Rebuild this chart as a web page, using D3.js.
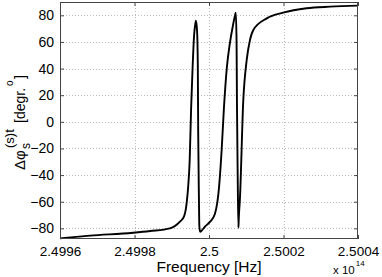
<!DOCTYPE html>
<html><head><meta charset="utf-8">
<script src="https://cdn.jsdelivr.net/npm/d3@7"></script>
<style>
html,body{margin:0;padding:0;background:#fff;}
svg{display:block;font-family:"Liberation Sans",Arial,Helvetica,sans-serif;}
</style></head>
<body>
<svg id="c" width="382" height="277"></svg>
<script>
// Frequency in units of 1e14 Hz
const freq = [2.49960,2.499681,2.499796,2.499842,2.499895,2.499922,2.499933,2.499940,2.499944,2.499948,2.499952,2.499956,2.499960,2.499963,2.499965,2.499968,2.499970,2.499971,2.499973,2.499974,2.499976,2.499981,2.499989,2.500003,2.500016,2.500027,2.500034,2.500040,2.500048,2.500056,2.500064,2.500070,2.500072,2.500074,2.500075,2.500077,2.500079,2.500080,2.500083,2.500092,2.500101,2.500110,2.500119,2.500155,2.500199,2.500262,2.500325,2.500400];
const dphi = [-87.5,-85.5,-83.3,-82,-80,-75,-71,-61,-49,-30,10,41,65,73,76,68,41,-8,-58,-78,-82.6,-81.5,-78.8,-75,-69,-49,-21,10,41,59,72,80,82,60,16,-40,-79.5,-72,-58,16,46,61.5,69,77.7,82,85.3,86.5,87.3];
const xTicks = [2.4996,2.4998,2.5,2.5002,2.5004];
const xTickLabels = ["2.4996","2.4998","2.5","2.5002","2.5004"];
const yTicks = [-80,-60,-40,-20,0,20,40,60,80];
const yTickLabels = ["\u221280","\u221260","\u221240","\u221220","0","20","40","60","80"];
const xDomain = [2.4996,2.5004];
const yDomain = [-88,90];

const svg = d3.select("#c");
const L=60, R=358, T=2, B=239;
const x = d3.scaleLinear().domain(xDomain).range([L,R]);
const y = d3.scaleLinear().domain(yDomain).range([B,T]);

// grid
const g = svg.append("g");
g.selectAll(".gx").data(xTicks.slice(1,-1)).enter().append("line")
  .attr("x1",d=>Math.round(x(d))+0.5).attr("x2",d=>Math.round(x(d))+0.5)
  .attr("y1",T).attr("y2",B)
  .attr("stroke","#bbb").attr("stroke-width",1).attr("stroke-dasharray","1,2");
g.selectAll(".gy").data(yTicks).enter().append("line")
  .attr("y1",d=>Math.round(y(d))+0.5).attr("y2",d=>Math.round(y(d))+0.5)
  .attr("x1",L).attr("x2",R)
  .attr("stroke","#bbb").attr("stroke-width",1).attr("stroke-dasharray","1,2");

// curve
const line = d3.line().x((d,i)=>x(freq[i])).y(d=>y(d)).curve(d3.curveMonotoneX);
svg.append("path").datum(dphi).attr("d",line)
  .attr("fill","none").attr("stroke","#000").attr("stroke-width",1.9)
  .attr("stroke-linejoin","round");

// axes (inward ticks, box)
const axB = d3.axisBottom(x).tickValues(xTicks).tickFormat((d,i)=>xTickLabels[i]).tickSizeInner(-4).tickSizeOuter(0).tickPadding(7);
const axT = d3.axisTop(x).tickValues(xTicks).tickFormat("").tickSizeInner(-4).tickSizeOuter(0);
const axL = d3.axisLeft(y).tickValues(yTicks).tickFormat((d,i)=>yTickLabels[i]).tickSizeInner(-4).tickSizeOuter(0).tickPadding(6);
const axR = d3.axisRight(y).tickValues(yTicks).tickFormat("").tickSizeInner(-4).tickSizeOuter(0);
function style(sel, fs){
  sel.select(".domain").remove();
  sel.selectAll("line").attr("stroke","#444");
  sel.selectAll("text").attr("fill","#000").style("font-size",fs).style("font-family","'Liberation Sans',Arial,sans-serif");
}
svg.append("g").attr("transform",`translate(0,${B})`).call(axB).call(style,"13.5px");
svg.append("g").attr("transform",`translate(0,${T})`).call(axT).call(style,"14px");
svg.append("g").attr("transform",`translate(${L},0)`).call(axL).call(style,"14px");
svg.append("g").attr("transform",`translate(${R},0)`).call(axR).call(style,"14px");
svg.append("rect").attr("x",L+0.5).attr("y",T+0.5).attr("width",R-L-1).attr("height",B-T-1)
  .attr("fill","none").attr("stroke","#444").attr("stroke-width",1);

// x label
svg.append("text").attr("x",209).attr("y",272).attr("text-anchor","middle")
  .style("font-size","15.5px").text("Frequency [Hz]");
// exponent
const ex = svg.append("text").attr("x",333).attr("y",274).style("font-size","11.5px");
ex.append("tspan").text("x 10");
ex.append("tspan").attr("dy",-8).attr("dx",1).style("font-size","8px").text("14");

// y label (rotated group, pieces placed along the text direction)
const yg = svg.append("g").attr("transform","translate(25,170) rotate(-90)");
yg.append("text").attr("x",0).attr("y",0).style("font-size","15px").text("\u0394\u03c6");
yg.append("text").attr("x",21).attr("y",5).style("font-size","12px").text("s");
yg.append("text").attr("x",22).attr("y",-11).style("font-size","13px").text("(s)t");
yg.append("text").attr("x",47).attr("y",0).style("font-size","14px").text("[degr.");
yg.append("text").attr("x",84).attr("y",-12).style("font-size","10px").text("o");
yg.append("text").attr("x",91).attr("y",0).style("font-size","14px").text("]");
</script>
</body></html>
